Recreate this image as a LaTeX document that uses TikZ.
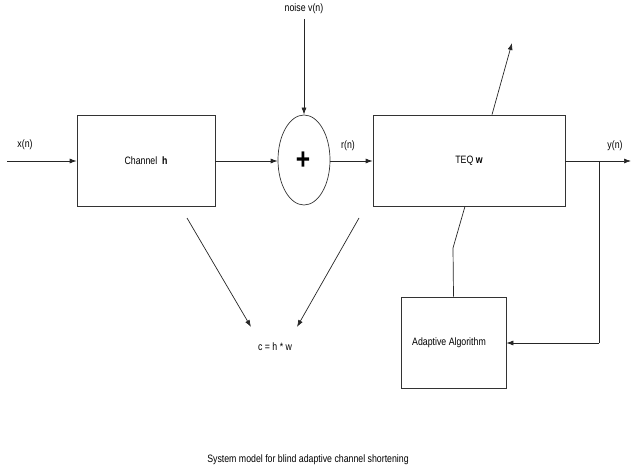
\documentclass[tikz,border=0pt]{standalone}
\usepackage{fontspec}
\setmainfont{Liberation Sans}[FakeStretch=0.82]
\usetikzlibrary{arrows.meta,shapes.geometric}
\begin{document}
\begin{tikzpicture}[x=1pt,y=-1pt,
  line/.style={draw=black!85,line width=0.7pt},
  arr/.style={line,-{Latex[length=7pt,width=5pt]}},
  blk/.style={draw=black!80,line width=0.7pt,rectangle,inner sep=0pt},
  lbl/.style={font=\fontsize{10.7}{12}\selectfont,inner sep=0pt}]
\useasboundingbox (0,0) rectangle (631,473);
\node[blk,minimum width=138pt,minimum height=91pt] (ch) at (146,160.5) {};
\node[lbl] (cht) at (146,161) {Channel\ \ \textbf{h}};
\node[draw=black!80,line width=0.7pt,ellipse,minimum width=52pt,minimum height=90pt,inner sep=0pt] (sum) at (304,160) {};
\node[font=\fontsize{30}{30}\selectfont\bfseries,inner sep=0pt] (plus) at (303,161) {+};
\node[blk,minimum width=192pt,minimum height=91pt] (teq) at (469,160.5) {};
\node[lbl] (teqt) at (469,161) {TEQ \textbf{w}};
\node[blk,minimum width=105pt,minimum height=91pt] (ad) at (453.5,342.5) {};
\node[lbl] (adt) at (449,343) {Adaptive Algorithm};
\node[lbl] (xn) at (25,145) {x(n)};
\node[lbl] (rn) at (348,146) {r(n)};
\node[lbl] (yn) at (615,146) {y(n)};
\node[lbl] (noise) at (304,9) {noise v(n)};
\node[lbl] (c) at (275,347) {c = h * w};
\node[lbl] (cap) at (308,460) {System model for blind adaptive channel shortening};
\coordinate (in) at (7,161);
\coordinate (nz) at (304,19);
\coordinate (out) at (631,161);
\coordinate (tap) at (599,161);
\coordinate (fb) at (599,343);
\coordinate (tw) at (512,43);
\coordinate (bend) at (453,248);
\draw[arr] (in) -- (ch.west |- in);
\draw[arr] (ch.east |- in) -- (sum.west |- in);
\draw[arr] (nz) -- (sum.north);
\draw[arr] (sum.east |- in) -- (teq.west |- in);
\draw[arr] (teq.east |- in) -- (out);
\draw[line] (tap) -- (fb);
\draw[arr] (fb) -- (ad.east |- fb);
\draw[arr] (teq.north -| 492,0) -- (tw);
\draw[line] (teq.south -| 465,0) -- (bend) -- (ad.north);
\draw[arr] (187,218) -- (251,327);
\draw[arr] (359,218) -- (297,327);
\end{tikzpicture}
\end{document}
